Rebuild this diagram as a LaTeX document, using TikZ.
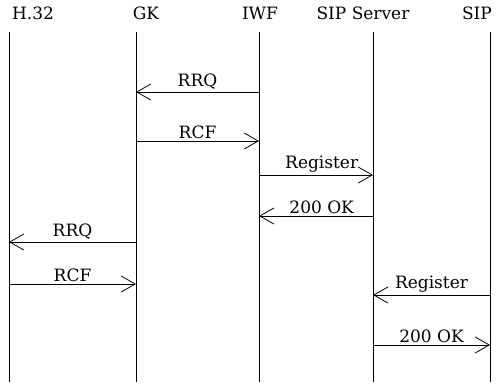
\documentclass[tikz,border=0pt]{standalone}
\usepackage{fontspec}
\setmainfont{DejaVu Serif}
\usetikzlibrary{arrows.meta,calc}

\begin{document}
\begin{tikzpicture}[
    x=1pt, y=-1pt,
    every node/.style={align=center, font=\fontsize{17}{19}\selectfont},
    entity/.style={inner sep=0pt},
    lifeline/.style={line width=0.8pt},
    msg/.style={line width=0.8pt, -{Straight Barb[length=14pt, width=16pt, line width=0.8pt]}},
    lbl/.style={above, inner sep=2pt}
]
\useasboundingbox (0,0) rectangle (496,384);

% Entities
\node[entity] (h32) at (33,13) {H.32};
\node[entity] (gk) at (146,13) {GK};
\node[entity] (iwf) at (260,13) {IWF};
\node[entity] (sipsrv) at (363,13) {SIP Server};
\node[entity] (sip) at (477,13) {SIP};

% Lifelines
\coordinate (h32top) at (9,32);
\coordinate (gktop) at (136,32);
\coordinate (iwftop) at (259,32);
\coordinate (sipsrvtop) at (373,32);
\coordinate (siptop) at (490,32);
\coordinate (h32bot) at (9,382);
\coordinate (gkbot) at (136,382);
\coordinate (iwfbot) at (259,382);
\coordinate (sipsrvbot) at (373,382);
\coordinate (sipbot) at (490,382);

\draw[lifeline] (h32top) -- (h32bot);
\draw[lifeline] (gktop) -- (gkbot);
\draw[lifeline] (iwftop) -- (iwfbot);
\draw[lifeline] (sipsrvtop) -- (sipsrvbot);
\draw[lifeline] (siptop) -- (sipbot);

% H.323 side registration
\draw[msg] (iwftop |- 0,92) -- node[lbl] {RRQ} (gktop |- 0,92);
\draw[msg] (gktop |- 0,141) -- node[lbl] {RCF} (iwftop |- 0,141);

% SIP side registration
\draw[msg] (iwftop |- 0,175) -- node[lbl, pos=0.55] {Register} (sipsrvtop |- 0,175);
\draw[msg] (sipsrvtop |- 0,216) -- node[lbl, pos=0.45] {200 OK} (iwftop |- 0,216);

% Terminal registration
\draw[msg] (gktop |- 0,242) -- node[lbl] {RRQ} (h32top |- 0,242);
\draw[msg] (h32top |- 0,284) -- node[lbl] {RCF} (gktop |- 0,284);
\draw[msg] (siptop |- 0,295) -- node[lbl] {Register} (sipsrvtop |- 0,295);
\draw[msg] (sipsrvtop |- 0,345) -- node[lbl] {200 OK} (siptop |- 0,345);

\end{tikzpicture}
\end{document}
